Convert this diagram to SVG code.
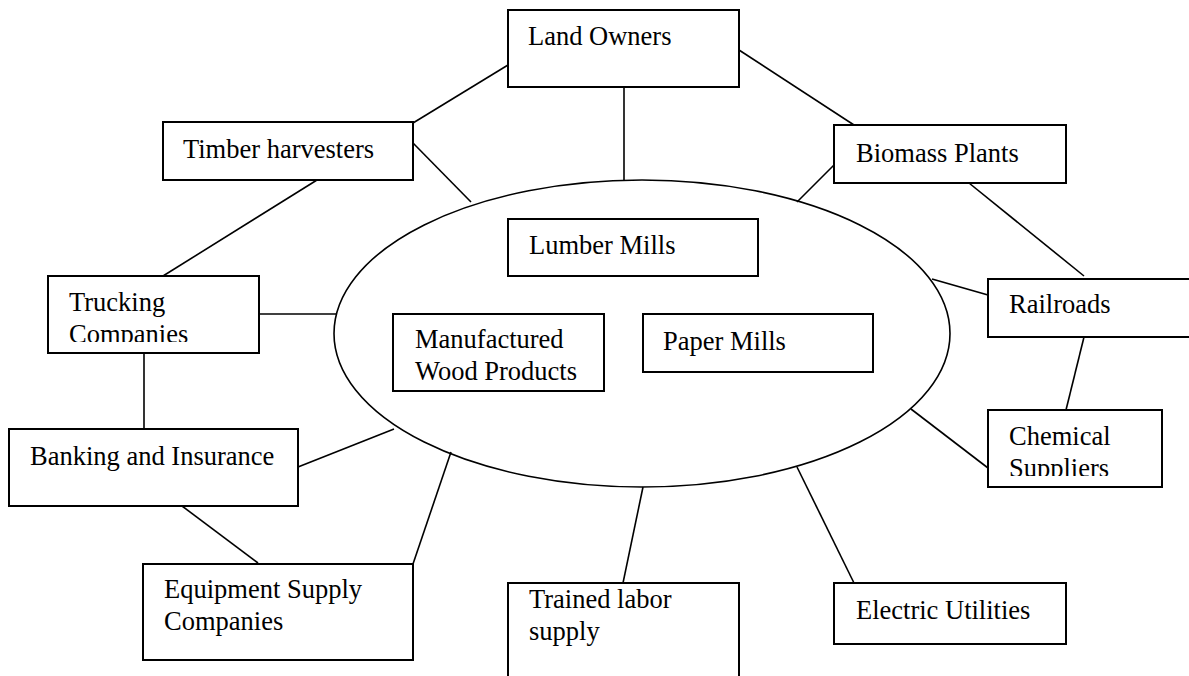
<svg xmlns="http://www.w3.org/2000/svg" width="1189" height="676" viewBox="0 0 1189 676">
<style>
.box{fill:#fff;stroke:#000;stroke-width:2}
.ln{stroke:#000;stroke-width:1.6;fill:none}
text{font-family:'Liberation Serif','Times New Roman',Tinos,'DejaVu Serif','Noto Serif',serif;font-size:26.5px;fill:#000}
</style>
<defs>
<clipPath id="clipTruck"><rect x="48" y="276" width="211" height="66"/></clipPath>
<clipPath id="clipChem"><rect x="988" y="410" width="174" height="66"/></clipPath>
</defs>
<rect width="1189" height="676" fill="#fff"/>
<g id="connectors">
<line class="ln" x1="508" y1="65" x2="413" y2="123"/>
<line class="ln" x1="413" y1="143" x2="471" y2="202"/>
<line class="ln" x1="624" y1="87" x2="624" y2="180"/>
<line class="ln" x1="739" y1="50" x2="854" y2="125"/>
<line class="ln" x1="834" y1="165" x2="797" y2="202"/>
<line class="ln" x1="969" y1="183" x2="1084" y2="276"/>
<line class="ln" x1="932" y1="279" x2="988" y2="295"/>
<line class="ln" x1="1084" y1="337" x2="1066" y2="410"/>
<line class="ln" x1="911" y1="409" x2="988" y2="468"/>
<line class="ln" x1="797" y1="467" x2="854" y2="583"/>
<line class="ln" x1="643" y1="487" x2="623" y2="583"/>
<line class="ln" x1="451" y1="452" x2="413" y2="564"/>
<line class="ln" x1="394" y1="429" x2="298" y2="467"/>
<line class="ln" x1="182" y1="506" x2="258" y2="563"/>
<line class="ln" x1="144" y1="353" x2="144" y2="429"/>
<line class="ln" x1="259" y1="314" x2="336" y2="314"/>
<line class="ln" x1="317" y1="180" x2="163" y2="276"/>
</g>
<g id="hub">
<ellipse class="ln" cx="642" cy="333.5" rx="308" ry="153.5"/>
</g>
<g id="lumber-mills">
<rect class="box" x="508" y="219" width="250" height="57"/>
<text x="529" y="254">Lumber Mills</text>
</g>
<g id="manufactured-wood">
<rect class="box" x="393" y="314" width="211" height="77"/>
<text x="415" y="348">Manufactured</text>
<text x="415" y="380">Wood Products</text>
</g>
<g id="paper-mills">
<rect class="box" x="643" y="314" width="230" height="58"/>
<text x="663" y="350">Paper Mills</text>
</g>
<g id="land-owners">
<rect class="box" x="508" y="10" width="231" height="77"/>
<text x="528" y="45">Land Owners</text>
</g>
<g id="timber-harvesters">
<rect class="box" x="163" y="122" width="250" height="58"/>
<text x="183" y="158">Timber harvesters</text>
</g>
<g id="biomass-plants">
<rect class="box" x="834" y="125" width="232" height="58"/>
<text x="856" y="162">Biomass Plants</text>
</g>
<g id="railroads">
<rect class="box" x="988" y="279" width="240" height="58"/>
<text x="1009" y="313">Railroads</text>
</g>
<g id="chemical-suppliers">
<rect class="box" x="988" y="410" width="174" height="77"/>
<g clip-path="url(#clipChem)">
<text x="1009" y="445">Chemical</text>
<text x="1009" y="477">Suppliers</text>
</g>
</g>
<g id="electric-utilities">
<rect class="box" x="834" y="583" width="232" height="61"/>
<text x="856" y="619">Electric Utilities</text>
</g>
<g id="trained-labor">
<rect class="box" x="508" y="583" width="231" height="110"/>
<text x="529" y="608">Trained labor</text>
<text x="529" y="640">supply</text>
</g>
<g id="equipment-supply">
<rect class="box" x="143" y="564" width="270" height="96"/>
<text x="164" y="598">Equipment Supply</text>
<text x="164" y="630">Companies</text>
</g>
<g id="banking-insurance">
<rect class="box" x="9" y="429" width="289" height="77"/>
<text x="30" y="465">Banking and Insurance</text>
</g>
<g id="trucking-companies">
<rect class="box" x="48" y="276" width="211" height="77"/>
<g clip-path="url(#clipTruck)">
<text x="69" y="311">Trucking</text>
<text x="69" y="343">Companies</text>
</g>
</g>
</svg>
